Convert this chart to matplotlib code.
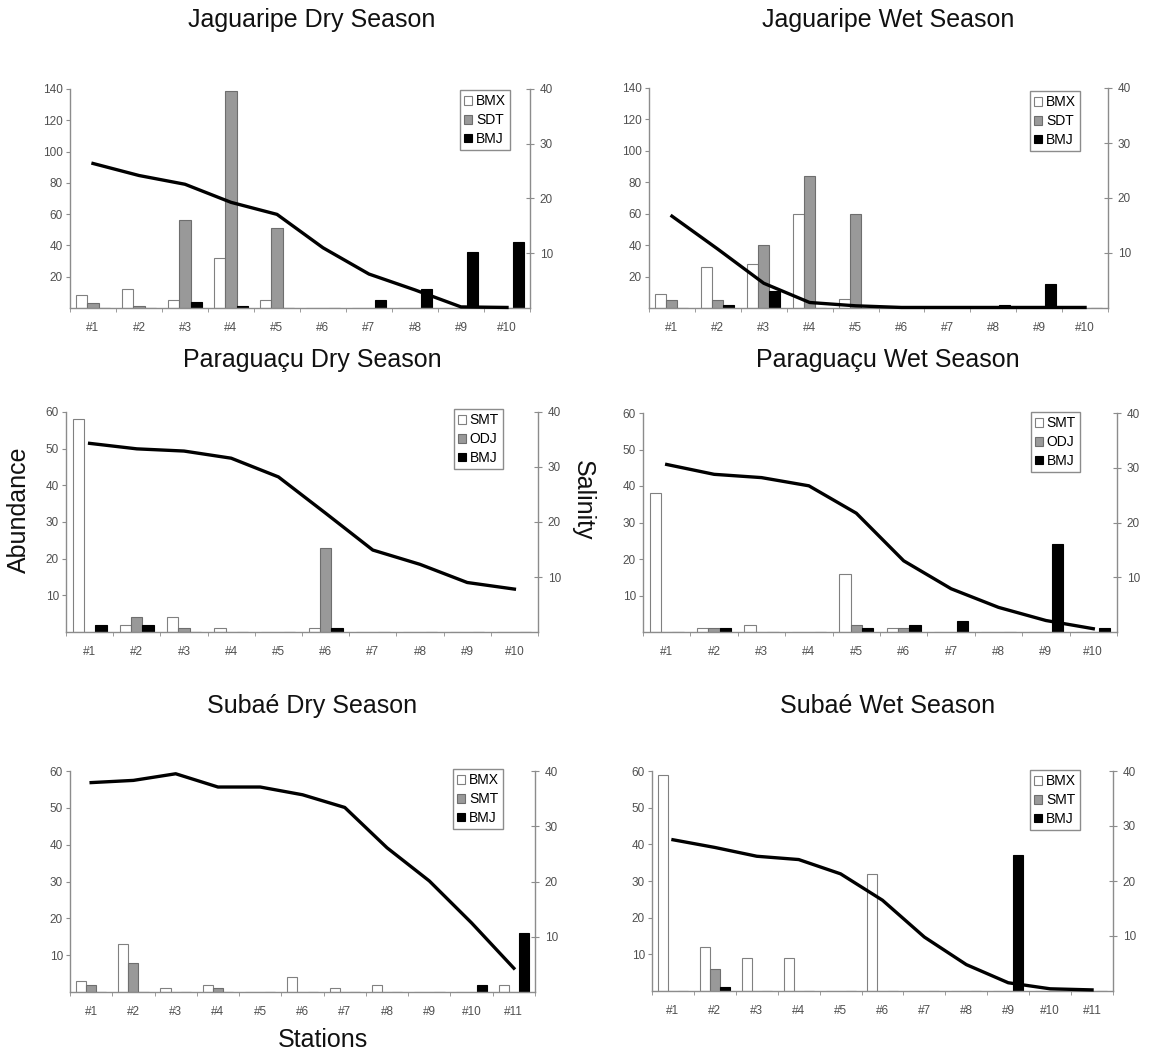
import matplotlib
matplotlib.use("Agg")
import matplotlib.pyplot as plt
from matplotlib.patches import Patch
import numpy as np

plt.rcParams['font.family'] = ['Liberation Sans', 'DejaVu Sans']

W, H = 1153, 1060

# ---------------- data ----------------
st10 = ['#1', '#2', '#3', '#4', '#5', '#6', '#7', '#8', '#9', '#10']
st11 = st10 + ['#11']

jag_dry_labels = ['BMX', 'SDT', 'BMJ']
jag_dry_bmx = [8, 12, 5, 32, 5, 0, 0, 0, 0, 0]
jag_dry_sdt = [3, 1, 56, 139, 51, 0, 0, 0, 0, 0]
jag_dry_bmj = [0, 0, 4, 1, 0, 0, 5, 12, 36, 42]
jag_dry_sal = [26.4, 24.2, 22.6, 19.3, 17.1, 11.0, 6.2, 3.3, 0.2, 0.1]

jag_wet_labels = ['BMX', 'SDT', 'BMJ']
jag_wet_bmx = [9, 26, 28, 60, 6, 0, 0, 0, 0, 0]
jag_wet_sdt = [5, 5, 40, 84, 60, 0, 0, 0, 0, 0]
jag_wet_bmj = [0, 2, 11, 0, 0, 0, 0, 2, 15, 0]
jag_wet_sal = [16.7, 10.7, 4.5, 1.0, 0.4, 0.1, 0.1, 0.1, 0.1, 0.1]

par_dry_labels = ['SMT', 'ODJ', 'BMJ']
par_dry_smt = [58, 2, 4, 1, 0, 1, 0, 0, 0, 0]
par_dry_odj = [0, 4, 1, 0, 0, 23, 0, 0, 0, 0]
par_dry_bmj = [2, 2, 0, 0, 0, 1, 0, 0, 0, 0]
par_dry_sal = [34.3, 33.3, 32.9, 31.6, 28.2, 21.6, 14.9, 12.3, 9.0, 7.8]

par_wet_labels = ['SMT', 'ODJ', 'BMJ']
par_wet_smt = [38, 1, 2, 0, 16, 1, 0, 0, 0, 0]
par_wet_odj = [0, 1, 0, 0, 2, 1, 0, 0, 0, 0]
par_wet_bmj = [0, 1, 0, 0, 1, 2, 3, 0, 24, 1]
par_wet_sal = [30.6, 28.8, 28.2, 26.7, 21.7, 13.0, 7.9, 4.5, 2.1, 0.6]

sub_dry_labels = ['BMX', 'SMT', 'BMJ']
sub_dry_bmx = [3, 13, 1, 2, 0, 4, 1, 2, 0, 0, 2]
sub_dry_smt = [2, 8, 0, 1, 0, 0, 0, 0, 0, 0, 0]
sub_dry_bmj = [0, 0, 0, 0, 0, 0, 0, 0, 0, 2, 16]
sub_dry_sal = [37.9, 38.3, 39.5, 37.1, 37.1, 35.7, 33.4, 26.1, 20.1, 12.5, 4.3]

sub_wet_labels = ['BMX', 'SMT', 'BMJ']
sub_wet_bmx = [59, 12, 9, 9, 0, 32, 0, 0, 0, 0, 0]
sub_wet_smt = [0, 6, 0, 0, 0, 0, 0, 0, 0, 0, 0]
sub_wet_bmj = [0, 1, 0, 0, 0, 0, 0, 0, 37, 0, 0]
sub_wet_sal = [27.5, 26.1, 24.5, 23.9, 21.3, 16.5, 9.8, 4.8, 1.5, 0.4, 0.2]

# ---------------- layout ----------------
fig = plt.figure(figsize=(W / 100, H / 100), dpi=100)

def px_axes(l, t, r, b):
    return fig.add_axes([l / W, 1 - b / H, (r - l) / W, (b - t) / H])

FILL = ['white', '#999999', 'black']
EDGE = ['#808080', '#6e6e6e', 'black']
SPINE = '#8c8c8c'
TICKC = '#505050'

def panel(box, stations, series, labels, sal, ymax, yticks, leg_right, leg_top):
    ax = px_axes(*box)
    n = len(stations)
    x = np.arange(n)
    bw = 0.24
    for i, (vals, lab) in enumerate(zip(series, labels)):
        ax.bar(x + (i - 1) * bw, vals, width=bw, color=FILL[i], edgecolor=EDGE[i],
               linewidth=0.8, label=lab, zorder=2)
    ax.set_xlim(-0.5, n - 0.5)
    ax.set_ylim(0, ymax)
    ax.set_yticks(yticks)
    ax.set_xticks(x)
    ax.set_xticklabels(stations)
    ax.set_xticks(np.arange(n + 1) - 0.5, minor=True)
    ax.tick_params(axis='x', which='major', length=0, pad=10, labelsize=8.5, labelcolor=TICKC)
    ax.tick_params(axis='x', which='minor', length=3, direction='out', color=SPINE)
    ax.tick_params(axis='y', length=3, direction='out', color=SPINE, labelsize=8.5,
                   labelcolor=TICKC, pad=2)
    for s in ['top', 'right']:
        ax.spines[s].set_visible(False)
    for s in ['left', 'bottom']:
        ax.spines[s].set_color(SPINE)
        ax.spines[s].set_linewidth(1.0)

    ax2 = ax.twinx()
    ax2.plot(x, sal, color='black', linewidth=2.4, zorder=3, clip_on=False,
             solid_joinstyle='round')
    ax2.set_ylim(0, 40)
    ax2.set_yticks([10, 20, 30, 40])
    ax2.tick_params(axis='y', length=6, direction='inout', color=SPINE, labelsize=8.5,
                    labelcolor=TICKC, pad=4)
    for s in ['top', 'left', 'bottom']:
        ax2.spines[s].set_visible(False)
    ax2.spines['right'].set_color(SPINE)
    ax2.spines['right'].set_linewidth(1.0)

    handles = [Patch(facecolor=FILL[i], edgecolor=EDGE[i], linewidth=0.8, label=labels[i])
               for i in range(3)]
    leg = fig.legend(handles=handles, loc='upper right',
                     bbox_to_anchor=(leg_right / W, 1 - leg_top / H),
                     bbox_transform=fig.transFigure, borderaxespad=0,
                     fontsize=10, handlelength=0.6, handleheight=0.6,
                     handletextpad=0.25, labelspacing=0.35, borderpad=0.3,
                     fancybox=False, framealpha=1)
    leg.get_frame().set_edgecolor('#8c8c8c')
    leg.get_frame().set_linewidth(1.0)
    return ax

panel((70, 89, 530, 308), st10, [jag_dry_bmx, jag_dry_sdt, jag_dry_bmj], jag_dry_labels,
      jag_dry_sal, 140, [20, 40, 60, 80, 100, 120, 140], 510, 90)
panel((649, 88, 1108, 308), st10, [jag_wet_bmx, jag_wet_sdt, jag_wet_bmj], jag_wet_labels,
      jag_wet_sal, 140, [20, 40, 60, 80, 100, 120, 140], 1080, 91)
panel((66, 412, 538, 632), st10, [par_dry_smt, par_dry_odj, par_dry_bmj], par_dry_labels,
      par_dry_sal, 60, [10, 20, 30, 40, 50, 60], 503, 409)
panel((643, 413, 1117, 632), st10, [par_wet_smt, par_wet_odj, par_wet_bmj], par_wet_labels,
      par_wet_sal, 60, [10, 20, 30, 40, 50, 60], 1080, 412)
panel((70, 771, 535, 992), st11, [sub_dry_bmx, sub_dry_smt, sub_dry_bmj], sub_dry_labels,
      sub_dry_sal, 60, [10, 20, 30, 40, 50, 60], 503, 769)
panel((652, 771, 1113, 991), st11, [sub_wet_bmx, sub_wet_smt, sub_wet_bmj], sub_wet_labels,
      sub_wet_sal, 60, [10, 20, 30, 40, 50, 60], 1080, 770)

def ftext(x, y, s, **kw):
    fig.text(x / W, 1 - y / H, s, ha='center', va='center', fontsize=18, color='#111111', **kw)

ftext(312, 20, 'Jaguaripe Dry Season')
ftext(888, 20, 'Jaguaripe Wet Season')
ftext(312, 360, 'Paraguaçu Dry Season')
ftext(888, 360, 'Paraguaçu Wet Season')
ftext(312, 706, 'Subaé Dry Season')
ftext(888, 706, 'Subaé Wet Season')
ftext(19, 510, 'Abundance', rotation=90)
ftext(583, 500, 'Salinity', rotation=270)
ftext(323, 1040, 'Stations')

fig.savefig('out.png', dpi=100, facecolor='white')
